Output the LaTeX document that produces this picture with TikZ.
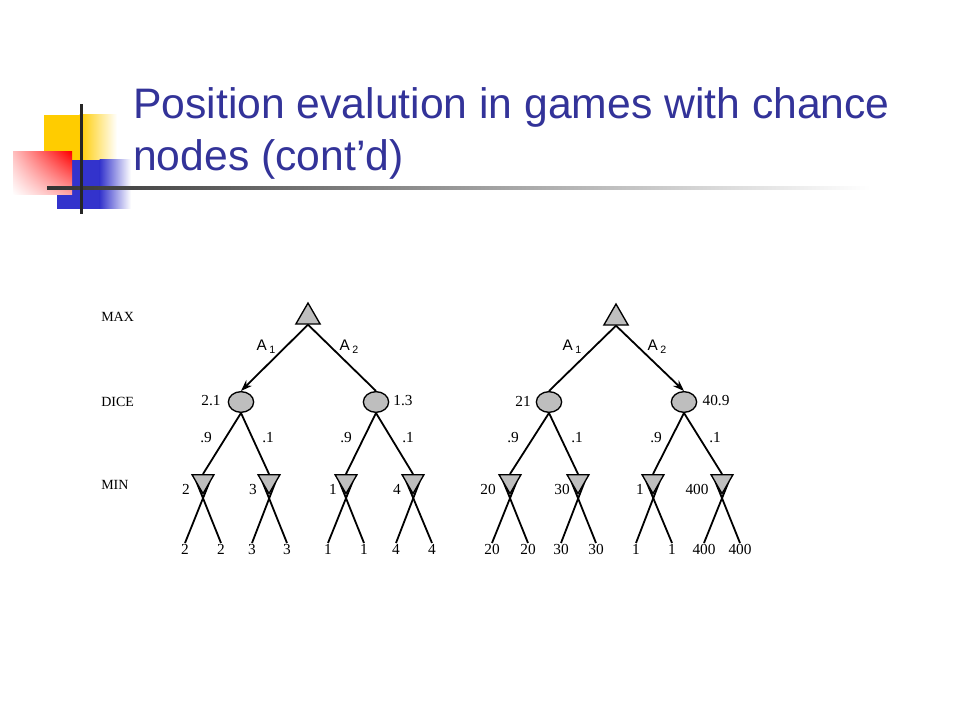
\documentclass[tikz,border=0pt]{standalone}
\usepackage{fontspec}
\setmainfont{Liberation Serif}
\setsansfont{Liberation Sans}
\newfontfamily\titlefont{Liberation Sans}
\usetikzlibrary{shapes.geometric,arrows.meta,shadings}
\pgfdeclarelayer{background}
\pgfsetlayers{background,main}
\definecolor{titleblue}{HTML}{333399}
\definecolor{nodegray}{HTML}{BEBEBE}
\definecolor{decoyellow}{HTML}{FFCC00}
\definecolor{decoblue}{HTML}{3333CC}
\definecolor{decored}{HTML}{FF0000}
\begin{document}
\begin{tikzpicture}[x=0.75pt,y=-0.75pt,
  maxnode/.style={regular polygon, regular polygon sides=3, draw=black, fill=nodegray,
    line width=1pt, inner sep=0pt, minimum size=21pt},
  minnode/.style={regular polygon, regular polygon sides=3, shape border rotate=180,
    draw=black, fill=nodegray, line width=1pt, inner sep=0pt, minimum size=19pt},
  chancenode/.style={ellipse, draw=black, fill=nodegray, line width=1pt, inner sep=0pt,
    minimum width=19pt, minimum height=15.5pt},
  edge/.style={line width=1.35pt, draw=black},
  arrowedge/.style={edge, -{Stealth[length=8.5pt,width=6pt]}},
  leaf/.style={font=\fontsize{11.5}{13}\selectfont, inner sep=1pt, anchor=north},
  val/.style={font=\fontsize{11.5}{13}\selectfont, inner sep=0pt},
  rowlab/.style={font=\fontsize{10.5}{12}\selectfont, inner sep=0pt, anchor=west},
  actlab/.style={font=\sffamily\fontsize{11.5}{13}\selectfont, inner sep=0pt},
  titletext/.style={font=\titlefont\fontsize{32}{38}\selectfont, text=titleblue, inner sep=0pt, anchor=base west}
]
\useasboundingbox (0,0) rectangle (960,720);
\begin{pgfonlayer}{background}
\fill[white] (0,0) rectangle (960,720);
\end{pgfonlayer}

% decoration
\fill[decoyellow] (44,115) rectangle (80,160);
\shade[left color=decoyellow, right color=white] (79.5,115) rectangle (117,160);
\fill[decoblue] (57,160) rectangle (100,209);
\shade[left color=decoblue, right color=white] (99.5,160) rectangle (131,209);
\shade[upper right=decored, upper left=decored!25, lower right=decored!35, lower left=white] (13,152) rectangle (72,195);
\shade[left color=black!80, right color=white] (47,186.5) rectangle (870,189.5);
\fill[black!85] (80,104) rectangle (82.5,214);

% title
\node[titletext] (t1) at (133,119) {Position evalution in games with chance};
\node[titletext] (t2) at (133,171) {nodes (cont’d)};

% row labels
\node[rowlab] (rmax) at (101,317) {MAX};
\node[rowlab] (rdice) at (101,402) {DICE};
\node[rowlab] (rmin) at (101,485) {MIN};

% ===== left tree =====
\node[maxnode] (a) at (308,317) {};
\node[chancenode] (c1) at (241,402) {};
\node[chancenode] (c2) at (376,402) {};
\node[minnode] (m1) at (203,481) {};
\node[minnode] (m2) at (269,481) {};
\node[minnode] (m3) at (346,481) {};
\node[minnode] (m4) at (413,481) {};

\draw[arrowedge] (a.side 2) -- (c1.north);
\draw[edge] (a.side 2) -- (c2.north);
\foreach \c/\m in {c1/m1,c1/m2,c2/m3,c2/m4}{\draw[edge] (\c.south) -- (\m.side 2);}

\node[leaf] (l1) at (185,543) {2};
\node[leaf] (l2) at (221,543) {2};
\node[leaf] (l3) at (252,543) {3};
\node[leaf] (l4) at (287,543) {3};
\node[leaf] (l5) at (328,543) {1};
\node[leaf] (l6) at (364,543) {1};
\node[leaf] (l7) at (396,543) {4};
\node[leaf] (l8) at (432,543) {4};

\node[actlab] (la1) at (266,347) {A\,\raisebox{-2.5pt}{\footnotesize 1}};
\node[actlab] (la2) at (349,347) {A\,\raisebox{-2.5pt}{\footnotesize 2}};
\node[val] (v21) at (211,401) {2.1};
\node[val] (v13) at (403,401) {1.3};
\node[val] (p1) at (206,438) {.9};
\node[val] (p2) at (268,438) {.1};
\node[val] (p3) at (346,438) {.9};
\node[val] (p4) at (408,438) {.1};
\node[val] (n1) at (186,489) {2};
\node[val] (n2) at (253,489) {3};
\node[val] (n3) at (333,489) {1};
\node[val] (n4) at (397,489) {4};

% ===== right tree =====
\node[maxnode] (b) at (616,318) {};
\node[chancenode] (c3) at (549,402) {};
\node[chancenode] (c4) at (684,402) {};
\node[minnode] (m5) at (510,481) {};
\node[minnode] (m6) at (578,481) {};
\node[minnode] (m7) at (653,481) {};
\node[minnode] (m8) at (722,481) {};

\draw[edge] (b.side 2) -- (c3.north);
\draw[arrowedge] (b.side 2) -- (c4.north);
\foreach \c/\m in {c3/m5,c3/m6,c4/m7,c4/m8}{\draw[edge] (\c.south) -- (\m.side 2);}

\node[leaf] (r1) at (492,543) {20};
\node[leaf] (r2) at (528,543) {20};
\node[leaf] (r3) at (561,543) {30};
\node[leaf] (r4) at (596,543) {30};
\node[leaf] (r5) at (636,543) {1};
\node[leaf] (r6) at (672,543) {1};
\node[leaf] (r7) at (704,543) {400};
\node[leaf] (r8) at (740,543) {400};

% crossing leaf edges (their upper ends hidden behind the MIN triangles)
\begin{pgfonlayer}{background}
\foreach \m/\p/\q in {m1/l1/l2,m2/l3/l4,m3/l5/l6,m4/l7/l8,m5/r1/r2,m6/r3/r4,m7/r5/r6,m8/r7/r8}{
  \draw[edge] (\p.north) -- ([shift={(6.5,-13)}]\m.corner 1);
  \draw[edge] (\q.north) -- ([shift={(-6.5,-13)}]\m.corner 1);}
\end{pgfonlayer}

\node[actlab] (lb1) at (572,347) {A\,\raisebox{-2.5pt}{\footnotesize 1}};
\node[actlab] (lb2) at (657,347) {A\,\raisebox{-2.5pt}{\footnotesize 2}};
\node[val] (v21b) at (523,401) {21};
\node[val] (v409) at (716,401) {40.9};
\node[val] (q1) at (513,438) {.9};
\node[val] (q2) at (577,438) {.1};
\node[val] (q3) at (656,438) {.9};
\node[val] (q4) at (715,438) {.1};
\node[val] (o1) at (488,489) {20};
\node[val] (o2) at (562,489) {30};
\node[val] (o3) at (640,489) {1};
\node[val] (o4) at (697,489) {400};
\end{tikzpicture}
\end{document}
